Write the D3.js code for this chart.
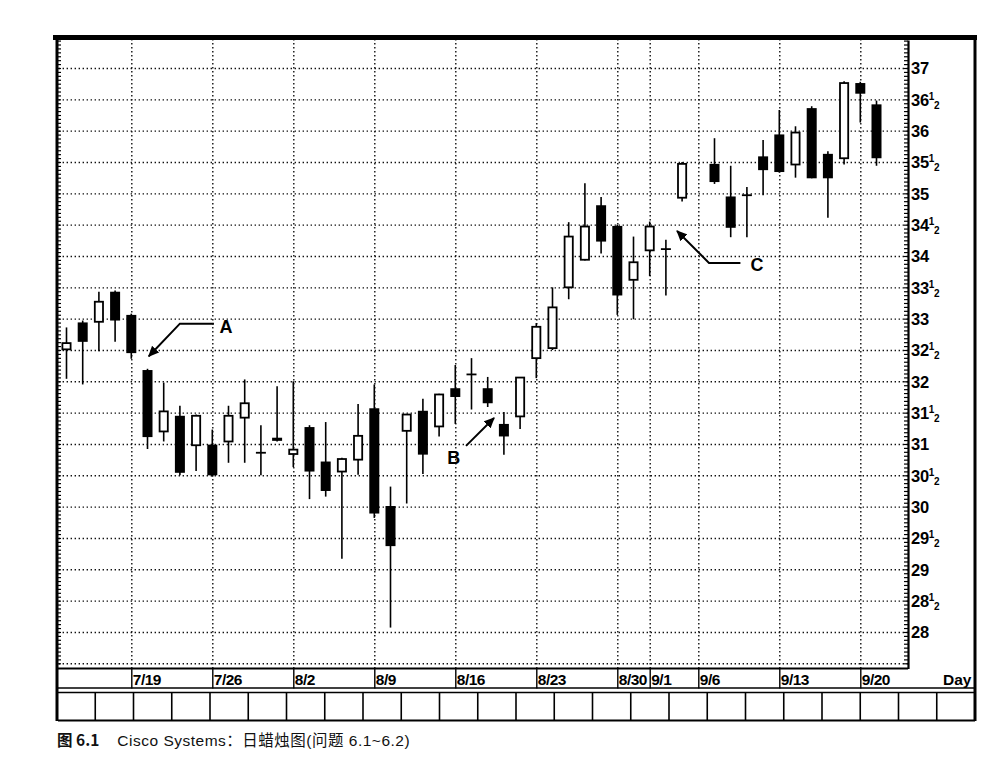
<!DOCTYPE html>
<html><head><meta charset="utf-8">
<script src="https://cdn.jsdelivr.net/npm/d3@7"></script>
<style>
html,body{margin:0;padding:0;background:#fff;}
svg{display:block;}
</style></head>
<body>
<script>
// ---- data ----
const dates = ["7/13","7/14","7/15","7/16","7/19","7/20","7/21","7/22","7/23","7/26","7/27","7/28","7/29","7/30",
"8/2","8/3","8/4","8/5","8/6","8/9","8/10","8/11","8/12","8/13","8/16","8/17","8/18","8/19","8/20",
"8/23","8/24","8/25","8/26","8/27","8/30","8/31","9/1","9/2","9/3","9/6","9/7","9/8","9/9","9/10",
"9/13","9/14","9/15","9/16","9/17","9/20","9/21"];
const openV  = [32.51,32.94,32.95,33.43,33.06,32.18,31.20,31.45,30.98,30.99,31.04,31.42,30.86,31.10,30.84,31.27,30.72,30.56,30.75,31.57,30.01,31.21,31.53,31.28,31.89,32.13,31.89,31.32,31.44,32.37,32.53,33.50,33.94,34.81,34.48,33.62,34.09,34.12,34.93,null,35.47,34.95,34.98,35.59,35.94,35.46,36.36,35.63,35.56,36.76,36.42];
const highV  = [32.86,32.97,33.43,33.45,33.08,32.20,31.98,31.61,31.47,31.23,31.61,32.03,31.30,31.92,32.00,31.30,31.35,30.78,31.64,31.95,30.32,31.48,31.72,31.80,32.26,32.37,32.07,31.51,32.07,32.93,33.50,34.54,35.16,34.94,34.50,34.31,34.55,34.26,35.50,null,35.88,35.44,35.10,35.85,36.33,36.07,36.39,35.67,36.79,36.78,36.48];
const lowV   = [32.04,31.95,32.48,32.63,32.36,30.92,31.04,30.50,30.57,30.48,30.70,30.70,30.50,31.04,30.63,30.12,30.16,29.17,30.51,29.82,28.07,30.05,30.52,31.12,31.32,31.55,31.59,30.83,31.24,32.05,32.50,33.31,33.93,34.04,33.06,32.99,33.68,33.37,34.87,null,35.15,34.30,34.30,34.97,35.33,35.25,35.24,34.61,35.46,36.13,35.44];
const closeV = [32.61,32.63,33.27,32.97,32.45,31.11,31.52,30.54,31.45,30.50,31.45,31.65,30.86,31.05,30.91,30.56,30.25,30.76,31.13,29.89,29.37,31.47,30.83,31.79,31.75,32.11,31.65,31.12,32.06,32.87,33.18,34.31,34.47,34.23,33.37,33.90,34.47,34.11,35.47,null,35.18,34.45,34.97,35.37,35.34,35.97,35.24,35.24,36.76,36.59,35.56];
const tickDates = ["7/19","7/26","8/2","8/9","8/16","8/23","8/30","9/1","9/6","9/13","9/20"];
const priceTicks = [28,28.5,29,29.5,30,30.5,31,31.5,32,32.5,33,33.5,34,34.5,35,35.5,36,36.5,37];
const gridPrices = [27.5,28,28.5,29,29.5,30,30.5,31,31.5,32,32.5,33,33.5,34,34.5,35,35.5,36,36.5,37];
// annotations: [dayIndex, price]
const annoA = {label:"A", text:[9.85,32.87], path:[[9.1,32.92],[7.0,32.92],[5.08,32.40]]};
const annoB = {label:"B", text:[23.9,30.79], path:[[24.66,30.97],[26.39,31.415]]};
const annoC = {label:"C", text:[42.62,33.86], path:[[41.6,33.89],[39.66,33.89],[37.69,34.40]]};
const captionHead = "图 6.1";
const caption = "Cisco Systems：日蜡烛图(问题 6.1~6.2)";

// ---- layout ----
const W = 999, H = 759;
const plotL = 58, plotR = 908, plotT = 40, plotB = 668.5;
const frameR = 975;

const svg = d3.select("body").append("svg").attr("width", W).attr("height", H);
svg.append("rect").attr("width", W).attr("height", H).attr("fill", "#fff");

const x = d3.scalePoint().domain(dates).range([66.5, 876.5]);
const xi = i => x(dates[0]) + x.step() * i;
const y = d3.scaleLinear().domain([27.417, 37.447]).range([plotB, plotT]);

const dotted = g => g.selectAll(".tick line").attr("stroke", "#111").attr("stroke-width", 1.4).attr("stroke-dasharray", "1.4 2.6");

// horizontal grid
svg.append("g").attr("transform", `translate(${plotR},0)`)
  .call(d3.axisLeft(y).tickValues(gridPrices).tickSize(plotR - plotL).tickFormat(""))
  .call(g => g.select(".domain").remove())
  .call(dotted);

// vertical grid
svg.append("g").attr("transform", `translate(0,${plotB})`)
  .call(d3.axisTop(x).tickValues(tickDates).tickSize(plotB - plotT).tickFormat(""))
  .call(g => g.select(".domain").remove())
  .call(dotted);

// minor ticks right axis
const minor = d3.range(27.5, 37.44, 1/16);
svg.append("g").attr("transform", `translate(${plotR},0)`)
  .call(d3.axisLeft(y).tickValues(minor).tickSize(4).tickSizeOuter(0).tickFormat(""))
  .call(g => g.select(".domain").attr("stroke-width", 2.2))
  .call(g => g.selectAll(".tick line").attr("stroke-width", 1.2));
// minor ticks left border
svg.append("g").attr("transform", `translate(${plotL},0)`)
  .call(d3.axisRight(y).tickValues(minor).tickSize(3).tickSizeOuter(0).tickFormat(""))
  .call(g => g.select(".domain").remove())
  .call(g => g.selectAll(".tick line").attr("stroke-width", 1.2));

// price labels
const yLab = svg.append("g").attr("transform", `translate(${plotR},0)`)
  .call(d3.axisRight(y).tickValues(priceTicks).tickSize(0).tickPadding(3))
  .call(g => g.select(".domain").remove());
yLab.selectAll(".tick text").each(function(d) {
  const t = d3.select(this);
  t.text(null).attr("font-family", "Liberation Sans, Arial, sans-serif").attr("font-weight", "bold")
   .attr("font-size", 16.5).attr("fill", "#000").attr("dy", "0.36em").attr("letter-spacing", -0.3);
  const whole = Math.floor(d);
  t.append("tspan").text(whole);
  if (d - whole > 0.01) {
    t.append("tspan").text("1").attr("font-size", 10).attr("dy", -6);
    t.append("tspan").text("2").attr("font-size", 10).attr("dy", 9);
  }
});

// date labels along bottom (ticks form the label-row dividers)
const xLab = svg.append("g").attr("transform", `translate(0,${plotB})`)
  .call(d3.axisBottom(x).tickValues(tickDates).tickSize(20).tickSizeOuter(0))
  .call(g => g.select(".domain").remove());
xLab.selectAll(".tick line").attr("stroke-width", 1.4);
xLab.selectAll(".tick text").attr("text-anchor", "start").attr("x", 1).attr("y", 5).attr("dy", "0.71em")
  .attr("font-family", "Liberation Sans, Arial, sans-serif").attr("font-weight", "bold")
  .attr("font-size", 15.5).attr("letter-spacing", -0.5).attr("fill", "#000");

svg.append("text").attr("x", 943).attr("y", 685).text("Day")
  .attr("font-family", "Liberation Sans, Arial, sans-serif").attr("font-weight", "bold").attr("font-size", 15.5);

// frame lines
const ln = (x1,y1,x2,y2,w) => svg.append("line").attr("x1",x1).attr("y1",y1).attr("x2",x2).attr("y2",y2)
   .attr("stroke","#000").attr("stroke-width",w);
ln(53, 37.5, frameR + 2, 37.5, 5);
ln(plotL - 1, 35, plotL - 1, 721, 3);
ln(frameR, 35, frameR, 721, 3);
ln(plotL, plotB, plotR, plotB, 2);
ln(plotL, 688, frameR, 688, 1.4);
ln(plotL, 692.5, frameR, 692.5, 1.4);
ln(plotL, 720.5, frameR, 720.5, 2);
// bottom boxes
const boxX = d3.scaleLinear().domain([0, 24]).range([plotL - 1, frameR]);
d3.range(1, 24).forEach(k => ln(boxX(k), 692.5, boxX(k), 720.5, 1.6));

// candles
const idx = d3.range(dates.length).filter(i => openV[i] !== null);
const bw = 10;
const cg = svg.append("g");
cg.selectAll("line.wick").data(idx).join("line").attr("class", "wick")
  .attr("x1", i => x(dates[i])).attr("x2", i => x(dates[i]))
  .attr("y1", i => y(highV[i])).attr("y2", i => y(lowV[i]))
  .attr("stroke", "#000").attr("stroke-width", 1.6);
const bodies = idx.filter(i => Math.abs(openV[i] - closeV[i]) >= 0.03);
const dojis = idx.filter(i => Math.abs(openV[i] - closeV[i]) < 0.03);
cg.selectAll("rect.body").data(bodies).join("rect").attr("class", "body")
  .attr("x", i => x(dates[i]) - (closeV[i] > openV[i] ? (bw - 1.8) / 2 : bw / 2))
  .attr("width", i => closeV[i] > openV[i] ? bw - 1.8 : bw)
  .attr("y", i => y(Math.max(openV[i], closeV[i])))
  .attr("height", i => Math.max(2, y(Math.min(openV[i], closeV[i])) - y(Math.max(openV[i], closeV[i]))))
  .attr("fill", i => closeV[i] > openV[i] ? "#fff" : "#000")
  .attr("stroke", "#000")
  .attr("stroke-width", i => closeV[i] > openV[i] ? 1.8 : 0);
cg.selectAll("line.doji").data(dojis).join("line").attr("class", "doji")
  .attr("x1", i => x(dates[i]) - 5).attr("x2", i => x(dates[i]) + 5)
  .attr("y1", i => y(closeV[i])).attr("y2", i => y(closeV[i]))
  .attr("stroke", "#000").attr("stroke-width", 1.8);

// annotations
const defs = svg.append("defs");
defs.append("marker").attr("id", "ah").attr("viewBox", "0 0 10 10").attr("refX", 9).attr("refY", 5)
  .attr("markerWidth", 11).attr("markerHeight", 11).attr("markerUnits", "userSpaceOnUse").attr("orient", "auto")
  .append("path").attr("d", "M0,0.5 L10,5 L0,9.5 Z").attr("fill", "#000");
const line = d3.line().x(p => xi(p[0])).y(p => y(p[1]));
[annoA, annoB, annoC].forEach(a => {
  svg.append("path").attr("d", line(a.path)).attr("fill", "none").attr("stroke", "#000")
    .attr("stroke-width", 2).attr("marker-end", "url(#ah)");
  svg.append("text").attr("x", xi(a.text[0])).attr("y", y(a.text[1])).attr("dy", "0.36em")
    .attr("text-anchor", "middle").text(a.label)
    .attr("font-family", "Liberation Sans, Arial, sans-serif").attr("font-weight", "bold").attr("font-size", 18);
});

// caption
const cap = svg.append("text").attr("x", 57).attr("y", 746).attr("font-size", 15.5)
  .attr("font-family", "Liberation Sans, 'Noto Sans CJK SC', sans-serif").attr("fill", "#111");
cap.append("tspan").text(captionHead).attr("font-weight", "bold").attr("font-family", "'Noto Sans CJK SC', sans-serif");
cap.append("tspan").attr("dx", 18).text(caption).attr("letter-spacing", 0.5);
</script>
</body></html>
